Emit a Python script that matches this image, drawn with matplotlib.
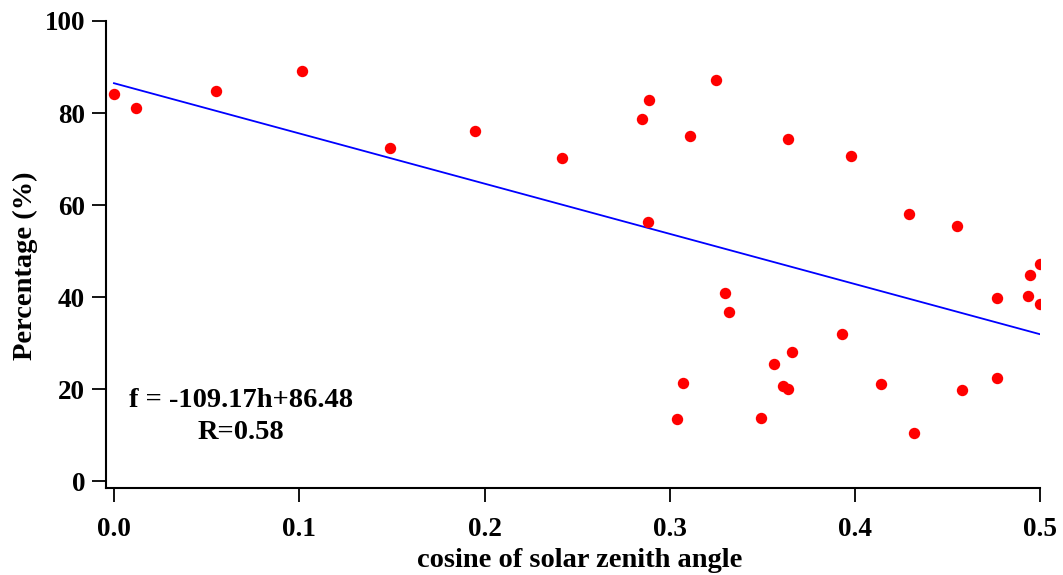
import matplotlib
matplotlib.use("Agg")
import matplotlib.pyplot as plt
import numpy as np

# data
cos_sza = [0.000, 0.012, 0.055, 0.1015, 0.149, 0.195, 0.242, 0.285, 0.289, 0.288,
           0.311, 0.325, 0.330, 0.332, 0.307, 0.304, 0.349, 0.356, 0.361, 0.364,
           0.366, 0.364, 0.393, 0.398, 0.4137, 0.4315, 0.429, 0.455, 0.4574, 0.4763,
           0.4765, 0.4934, 0.4945, 0.4996, 0.4996]
percentage = [84.1, 81.1, 84.8, 89.1, 72.4, 76.1, 70.2, 78.8, 82.8, 56.4,
              75.1, 87.2, 40.8, 36.7, 21.4, 13.5, 13.8, 25.4, 20.7, 20.1,
              28.0, 74.3, 32.0, 70.7, 21.1, 10.4, 58.1, 55.5, 19.9, 22.5,
              39.9, 40.2, 44.7, 47.2, 38.4]

slope = -109.17
intercept = 86.48
fit_x = np.array([0.0, 0.5])
fit_y = slope * fit_x + intercept

x_ticks = [0.0, 0.1, 0.2, 0.3, 0.4, 0.5]
x_ticklabels = ["0.0", "0.1", "0.2", "0.3", "0.4", "0.5"]
y_ticks = [0, 20, 40, 60, 80, 100]

# plotting
plt.rcParams["font.family"] = ["Liberation Serif", "DejaVu Serif"]
plt.rcParams["font.weight"] = "bold"

fig = plt.figure(figsize=(10.63, 5.75), dpi=100)
ax = fig.add_axes([0.0997, 0.1513, 0.9788 - 0.0997, 0.9635 - 0.1513])

ax.plot(fit_x, fit_y, color="blue", linewidth=1.3, zorder=2)
ax.plot(cos_sza, percentage, linestyle="none", marker="o", markersize=8.2,
        color="red", markeredgewidth=0, zorder=3)

ax.set_xlim(-0.0043, 0.5)
ax.set_ylim(-1.5, 100)
ax.set_xticks(x_ticks)
ax.set_xticklabels(x_ticklabels)
ax.set_yticks(y_ticks)

for s in ["top", "right"]:
    ax.spines[s].set_visible(False)
for s in ["left", "bottom"]:
    ax.spines[s].set_linewidth(1.5)

ax.tick_params(axis="both", labelsize=19.5, width=1.3, length=10)
ax.tick_params(axis="y", pad=5)
ax.tick_params(axis="x", pad=11)
for lab in ax.get_xticklabels() + ax.get_yticklabels():
    lab.set_fontweight("bold")

ax.set_xlabel("cosine of solar zenith angle", fontsize=20.5, fontweight="bold")
ax.xaxis.label.set_va("baseline")
ax.xaxis.set_label_coords(0.507, -0.169)
ax.set_ylabel("Percentage (%)", fontsize=20.5, fontweight="bold")
ax.yaxis.label.set_va("center")
ax.yaxis.set_label_coords(-0.0867, 0.475)

ax.text(0.0685, 14.0, "f = -109.17h+86.48\nR=0.58", ha="center", va="center",
        fontsize=20.5, fontweight="bold", linespacing=1.35)

fig.savefig("out.png", dpi=100)
